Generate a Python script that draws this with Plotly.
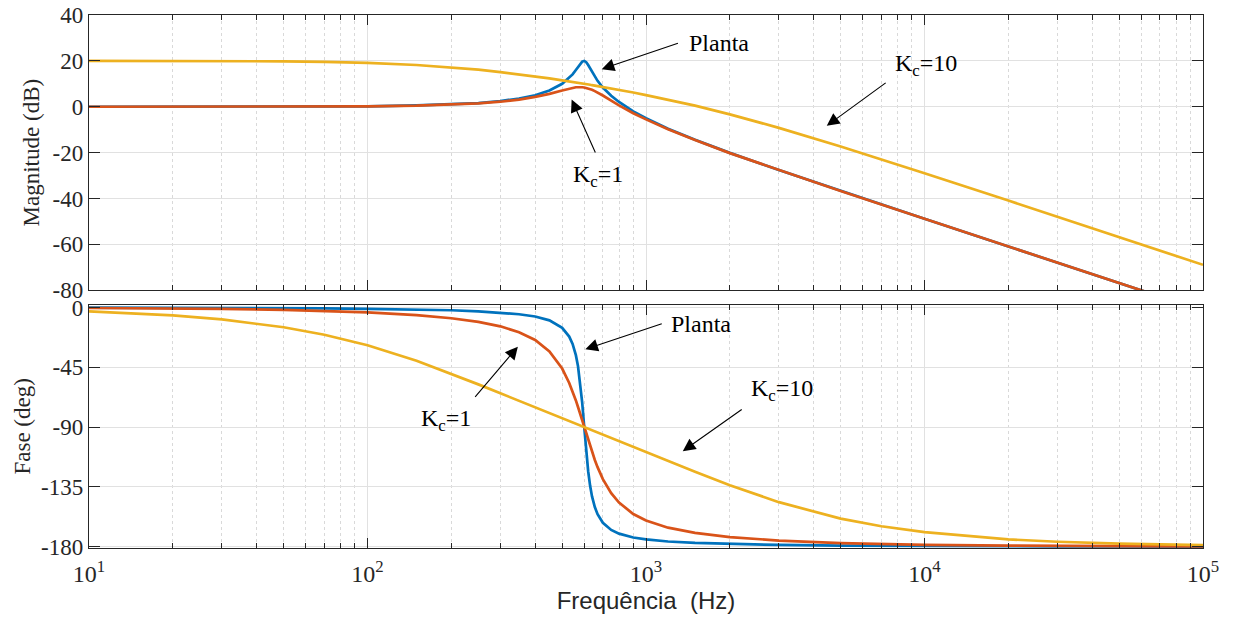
import plotly.graph_objects as go

# ---------------- data ----------------
freq = [10, 20, 30, 50, 70, 100, 150, 200, 250, 300, 350, 400, 450, 500, 530, 545,
        560, 570, 580, 590, 600, 610, 620, 630, 640, 655, 670, 700, 750, 800, 900,
        1000, 1200, 1500, 2000, 3000, 5000, 7000, 10000, 20000, 30000, 50000, 100000]

mag_planta = [0.0, 0.0, 0.0, 0.1, 0.1, 0.2, 0.6, 1.0, 1.6, 2.5, 3.6, 5.0, 7.1, 10.0, 12.5, 14.1,
              16.0, 17.3, 18.7, 19.7, 20.0, 19.4, 18.2, 16.7, 15.2, 13.1, 11.3, 8.4, 4.8, 2.1, -2.0,
              -5.0, -9.6, -14.4, -20.1, -27.6, -36.7, -42.6, -48.8, -60.9, -68.0, -76.8, -88.9]
mag_kc1 = [0.0, 0.0, 0.0, 0.1, 0.1, 0.2, 0.5, 0.9, 1.5, 2.2, 3.1, 4.3, 5.6, 7.1, 7.9, 8.2,
           8.5, 8.5, 8.6, 8.5, 8.4, 8.2, 8.0, 7.7, 7.4, 6.8, 6.2, 4.9, 2.7, 0.6, -2.8,
           -5.5, -9.8, -14.5, -20.2, -27.6, -36.7, -42.6, -48.8, -60.9, -68.0, -76.8, -88.9]
mag_kc10 = [20.0, 20.0, 19.9, 19.8, 19.6, 19.1, 18.2, 17.2, 16.2, 15.1, 14.2, 13.2, 12.4, 11.5, 11.1, 10.8,
            10.6, 10.4, 10.3, 10.2, 10.0, 9.9, 9.7, 9.6, 9.4, 9.2, 9.0, 8.6, 8.0, 7.4, 6.2,
            5.1, 3.1, 0.5, -3.3, -9.2, -17.3, -22.9, -29.0, -40.9, -48.0, -56.8, -68.9]

ph_planta = [-0.1, -0.2, -0.3, -0.5, -0.7, -1.0, -1.5, -2.1, -2.9, -3.8, -5.1, -6.8, -9.7, -15.3, -21.9, -27.4,
             -35.9, -44.3, -55.9, -71.4, -90.0, -108.3, -123.3, -134.3, -142.3, -150.3, -155.7, -162.1, -167.5, -170.3, -173.2,
             -174.6, -176.2, -177.3, -178.1, -178.8, -179.3, -179.5, -179.7, -179.8, -179.9, -179.9, -180.0]
ph_kc1 = [-0.4, -0.7, -1.1, -1.8, -2.6, -3.7, -5.8, -8.1, -10.8, -14.2, -18.6, -24.5, -33.1, -46.0, -56.8, -63.1,
          -70.0, -74.9, -79.9, -84.9, -90.0, -95.0, -99.8, -104.4, -108.8, -114.8, -120.2, -129.2, -139.8, -146.9, -155.5,
          -160.4, -165.8, -169.7, -172.9, -175.5, -177.4, -178.1, -178.7, -179.3, -179.6, -179.7, -179.9]
ph_kc10 = [-3.0, -6.0, -9.0, -14.9, -20.5, -28.4, -40.1, -49.8, -57.9, -64.6, -70.3, -75.2, -79.5, -83.4, -85.5, -86.5,
           -87.5, -88.1, -88.8, -89.4, -90.0, -90.6, -91.2, -91.8, -92.3, -93.2, -94.0, -95.6, -98.1, -100.5, -104.8,
           -108.6, -115.4, -123.6, -133.8, -146.6, -159.0, -164.7, -169.2, -174.6, -176.4, -177.8, -178.9]

series_names = ["Planta", "Kc=1", "Kc=10"]
colors = ["#0072BD", "#D95319", "#EDB120"]

x_tickvals = [10, 100, 1000, 10000, 100000]
x_ticktext = ["10<sup>1</sup>", "10<sup>2</sup>", "10<sup>3</sup>", "10<sup>4</sup>", "10<sup>5</sup>"]
mag_ticks = [40, 20, 0, -20, -40, -60, -80]
ph_ticks = [0, -45, -90, -135, -180]

# ---------------- figure ----------------
SERIF = "Liberation Serif"
SANS = "Liberation Sans"
GRID = "#e1e1e1"
MINOR_GRID = "#d9d9d9"
INK = "#262626"

fig = go.Figure()
for name, col, m in zip(series_names, colors, [mag_planta, mag_kc1, mag_kc10]):
    fig.add_trace(go.Scatter(x=freq, y=m, mode="lines", name=name,
                             line=dict(color=col, width=2.7), xaxis="x", yaxis="y"))
for name, col, p in zip(series_names, colors, [ph_planta, ph_kc1, ph_kc10]):
    fig.add_trace(go.Scatter(x=freq, y=p, mode="lines", name=name,
                             line=dict(color=col, width=2.7), xaxis="x2", yaxis="y2"))

minor_vals = [m * 10 ** e for e in range(1, 5) for m in range(2, 10)]

def xaxis_cfg(show_labels, anchor):
    return dict(
        type="log", range=[1, 5], anchor=anchor, automargin=False,
        tickvals=x_tickvals, ticktext=x_ticktext, showticklabels=show_labels,
        ticks="inside", ticklen=10, tickwidth=1, tickcolor=INK,
        showline=True, linecolor=INK, linewidth=1.3, mirror="allticks",
        showgrid=True, gridcolor=GRID, gridwidth=1,
        minor=dict(tickvals=minor_vals, ticks="inside", ticklen=5, tickcolor=INK,
                   showgrid=True, gridcolor=MINOR_GRID, griddash="dot", gridwidth=1),
        tickfont=dict(family=SERIF, size=24, color=INK),
        ticklabeloverflow="allow",
        zeroline=False, domain=[0, 1],
    )

def yaxis_cfg(rng, tv, dom, title, anchor, standoff):
    return dict(
        range=rng, tickvals=tv, ticktext=[str(v) for v in tv], domain=dom, anchor=anchor,
        automargin=False,
        ticks="inside", ticklen=11, tickwidth=1, tickcolor=INK,
        showline=True, linecolor=INK, linewidth=1.3, mirror="allticks",
        showgrid=True, gridcolor=GRID, gridwidth=1, zeroline=False,
        tickfont=dict(family=SERIF, size=23, color=INK),
        ticklabeloverflow="allow",
        title=dict(text=title, font=dict(family=SERIF, size=23, color=INK), standoff=standoff),
    )

fig.update_layout(
    width=1233, height=628,
    margin=dict(l=89, r=30, t=15, b=80, autoexpand=False),
    paper_bgcolor="white", plot_bgcolor="white",
    showlegend=False,
    xaxis=xaxis_cfg(False, "y"),
    yaxis=yaxis_cfg([-80, 40], mag_ticks, [0.4835, 1.0], "Magnitude (dB)", "x", 6),
    xaxis2=xaxis_cfg(True, "y2"),
    yaxis2=yaxis_cfg([-181.1, 2.1], ph_ticks, [0.0, 0.4565], "Fase (deg)", "x2", 4),
)
fig.layout.xaxis2.title = dict(text="Frequência  (Hz)", font=dict(family=SANS, size=24, color=INK),
                               standoff=2)
fig.layout.xaxis2.ticklabelstandoff = 4

TXT = dict(family=SERIF, size=24, color="black")

def label(x, y, text, xr, yr, xanchor="left"):
    fig.add_annotation(x=x, y=y, xref=xr, yref=yr, text=text, showarrow=False,
                       font=TXT, xanchor=xanchor, yanchor="middle")

def arrow(hx, hy, tx, ty, xr, yr):
    fig.add_annotation(x=hx, y=hy, ax=tx, ay=ty, xref=xr, yref=yr, axref=xr, ayref=yr,
                       text="", showarrow=True, arrowhead=2, arrowsize=2.3,
                       arrowwidth=1.1, arrowcolor="black", standoff=0, startstandoff=0)

# top panel (x positions in log10 Hz)
label(3.146, 27.7, "Planta", "x", "y")
arrow(2.841, 16.4, 3.120, 27.9, "x", "y")
label(2.828, -30.0, "K<sub>c</sub>=1", "x", "y", "center")
arrow(2.733, 3.2, 2.8205, -20.6, "x", "y")
label(4.007, 18.0, "K<sub>c</sub>=10", "x", "y", "center")
arrow(3.649, -8.3, 3.866, 10.9, "x", "y")

# bottom panel
label(3.083, -12.4, "Planta", "x2", "y2")
arrow(2.782, -31.5, 3.062, -11.9, "x2", "y2")
label(2.282, -84.5, "K<sub>c</sub>=1", "x2", "y2", "center")
arrow(2.540, -29.5, 2.382, -68.4, "x2", "y2")
label(3.490, -62.5, "K<sub>c</sub>=10", "x2", "y2", "center")
arrow(3.132, -108.2, 3.349, -76.0, "x2", "y2")

# remove the default 8 px page margin so the figure fills the window exactly
fig.write_html("out.html", config={"displayModeBar": False},
               post_script="document.body.style.margin='0';")
